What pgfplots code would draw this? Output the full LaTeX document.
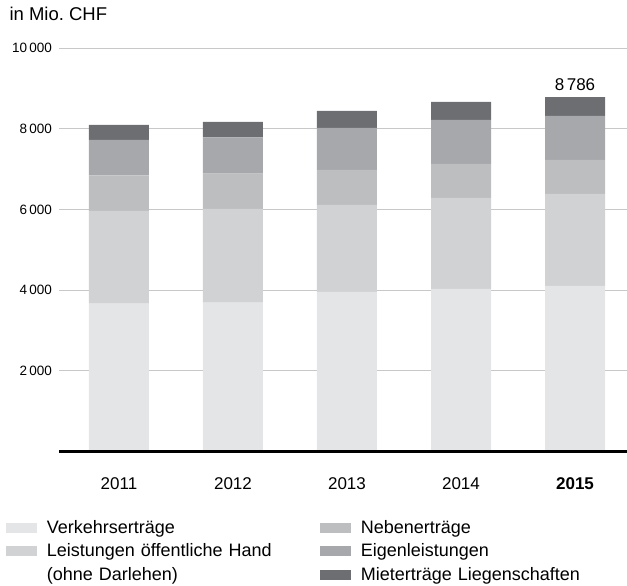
\documentclass[border=0pt]{standalone}
\usepackage{fontspec}
\setmainfont{Liberation Sans}
\usepackage{pgfplots}
\pgfplotsset{compat=1.18}
\definecolor{verkehr}{HTML}{E4E5E7}
\definecolor{leistung}{HTML}{D1D2D4}
\definecolor{neben}{HTML}{BDBEC0}
\definecolor{eigen}{HTML}{A7A8AB}
\definecolor{mieter}{HTML}{6D6E71}
\definecolor{gridgray}{HTML}{C8C8C8}

\begin{document}
\begin{tikzpicture}
\begin{axis}[
    name=ax,
    at={(59pt,134.7pt)}, anchor=south west,
    width=568pt, height=403pt, scale only axis,
    xmin=2010.474, xmax=2015.456,
    ymin=0, ymax=10000,
    ybar stacked, bar width=60pt,
    axis x line*=bottom, axis y line*=left,
    axis line style={draw=none},
    major tick length=0pt,
    xtick={2011,2012,2013,2014,2015},
    xticklabels={2011,2012,2013,2014,\textbf{2015}},
    ytick={2000,4000,6000,8000,10000},
    scaled y ticks=false,
    ymajorgrids, grid style={gridgray, line width=1pt},
    x tick label style={font=\fontsize{17}{20}\selectfont, anchor=base, yshift=-38.7pt},
    y tick label style={font=\fontsize{13.5}{16}\selectfont, anchor=east, inner sep=0pt, xshift=-7pt,
        /pgf/number format/.cd, 1000 sep={\hspace{0.15em}}, assume math mode=true},
    legend style={at={(axis description cs:-0.0933,-0.1705)}, anchor=north west,
        draw=none, fill=none, inner sep=0pt, row sep=6pt,
        font=\fontsize{18}{20}\selectfont,
        nodes={inner sep=0pt, text height=13pt, text depth=4.5pt, text width=240pt, anchor=base west},
        /tikz/every odd column/.append style={column sep=9.7pt},
        /tikz/every even column/.append style={column sep=33.3pt}},
    legend columns=3, transpose legend,
    legend image code/.code={\fill[#1] (0pt,0.7pt) rectangle (31pt,10.7pt);},
]
\addplot[fill=verkehr, draw=none] coordinates {(2011,3667) (2012,3692) (2013,3958) (2014,4032) (2015,4107)};
\addlegendentry{Verkehrserträge}
\addplot[fill=leistung, draw=none] coordinates {(2011,2301) (2012,2325) (2013,2159) (2014,2258) (2015,2283)};
\addlegendentry{Leistungen öffentliche Hand}
\addlegendimage{empty legend}
\addlegendentry{(ohne Darlehen)}
\addplot[fill=neben, draw=none] coordinates {(2011,876) (2012,876) (2013,868) (2014,844) (2015,843)};
\addlegendentry{Nebenerträge}
\addplot[fill=eigen, draw=none] coordinates {(2011,886) (2012,894) (2013,1042) (2014,1092) (2015,1092)};
\addlegendentry{Eigenleistungen}
\addplot[fill=mieter, draw=none] coordinates {(2011,372) (2012,390) (2013,422) (2014,446) (2015,461)};
\addlegendentry{Mieterträge Liegenschaften}
\node[anchor=base, font=\fontsize{17}{20}\selectfont, yshift=6.5pt] at (axis cs:2015,8786) {8\hspace{0.15em}786};
\end{axis}
\draw[line width=2.7pt] (ax.south west) -- (ax.south east);
\node[anchor=base west, font=\fontsize{18.5}{22}\selectfont] at (6pt,565pt) {in Mio.\ CHF};
\pgfresetboundingbox
\path (0,0) rectangle (627pt,586pt);
\end{tikzpicture}
\end{document}
